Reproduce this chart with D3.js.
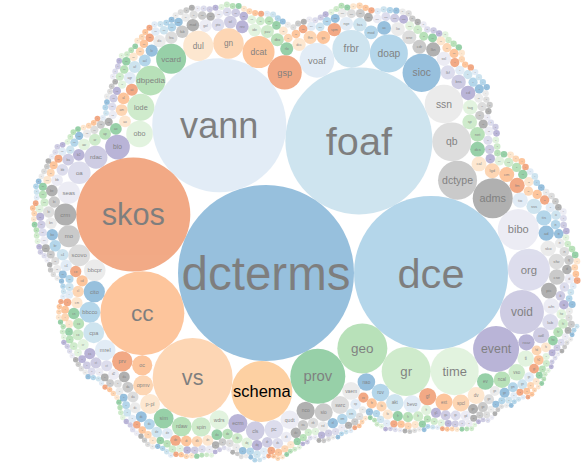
<!DOCTYPE html>
<html>
<head>
<meta charset="utf-8">
<script src="https://cdn.jsdelivr.net/npm/d3@7"></script>
<style>
body { margin: 0; background: #fff; overflow: hidden; }
text { font-family: "Liberation Sans", Arial, sans-serif; pointer-events: none; }
</style>
</head>
<body>
<div id="chart-area"></div>
<script>

// vocabulary prefixes, already sorted by usage (largest first)
var names = ("dcterms dce foaf vann skos cc vs schema prov geo gr time event void org bibo adms dctype qb ssn sioc doap frbr voaf gsp dcat gn dul vcard dbpedia lode obo bio " +
  "rdac oa seas crm mo scovo bbcprov cito bbccore cpa mrel prv oc opmv p-plan sim rdaw spin wdrs ecrm cls pc qudt nco sio swrc vaem nao rov akt bevon gf ext spcl dv ev ncal vso ti roar adl lab afn pico cse sfw skosxl ad tisc ssso tio fm cm lgd cal dcs net sp tag cd bnsl lkfr ssl lkn cdr oner lio ac mod hcs ngeo spm gs fhn dcc rlo dbo pav ide rev wl pto gold mads fabio fea dic lv " +
  "acl af agrelon aiiso algo am ao aos api arch awol b2bo basic bbc bbccms being biol biotop bne bot bref c4n c4o ceo cdm cl cmo cnt cog coo cro csvw ctag ctorg d2rq dady daia dannet dcam dcite " +
  "dcndl decision demlab deo disco dk dn doc docso dpn dq dqm dr dso dtype dvia earl ebucore edm elec emp emtr ep ex fel food fowl frad frapo frbrer fresnel g50k gazetteer gc gd gen geod geof geop ges " +
  "gml gndo gso gts h2o hdo hifm holding hr http hw iao ibis ic idemo identity igeo incident infor inno interval iol irw is isbd iso639 isocat isothes itsrdf kdo keys label lawd lcy ldp ldr lemon lexinfo lgdo li " +
  "lib limoo lingvo llont lmf loc locn log lsc lvont ma-ont marl maso mdi media meta mil moac moat msm mtl muto mvco ndl nfo nie nif nrl nsl ntag oad obsm ocd odapp odpart odrl odv olca olo om " +
  "onc ont ontopic ontosec op opmo opmw opo opus orca ore osadm osgeom osp osr osspr ostop ov owl owlse pattern pay pbo pdo person place pmlp pna pnt postcode pproc pro prvr ptop pubsub puc quty radion rdafrbr rdag1 " +
  "rdarel rdfs rec rec54 rel rr rsctx ru s4ac saws scip scoro scot scsv sd sdo search sem seq sf shoah sirext sit sdmx smg snarm sor spcm spfood sport spt sto stac step swc swpm swpo taxon tao teach " +
  "test theatre tis tm tmo topo tp traffic trao tsioc tsn tso turismo tvc tzont uco ui uneskos uri4uri uta vdpp vgo vin vivo vmm voag vra vsearch wai wf-invoc wfdesc wfprov wgs84 wi wlo wo xapi xhv xkos zbwext " +
  "acco adr aeo agls alg ann aprov asgv atd bag bibtex biopax blt bn cart cbo cerif cgov cidoc ckan cmns co comm coun cpov ct ctxdesc cv cwork dav dcap dcx dgtwc dio dm2e dogont dpv drm dsn dsw " +
  "ecpo eli elod emotion env esadm evset exif fire geom gci gdprov gov gtfs gvp hasco hto hydra ical iot-lite isa itm kees lheo lime limo lmm1 lmm2 loted lrmi m3lite mex-algo mex-core mex-perf minim mls md mtlo muo oboe " +
  "ocds odo ogc olac omdoc ontolex oo oslc pep pext phdd pic prissma qu raul rdag2 rdag3 rdai rdam rdae rdaa rdfa rlog ro rut san-lod sosa tempo uby vartrans vrank whois xlime sdmx-d sdmx-m sdmx-c gnd tei wot sh " +
  "ssno sao seo sbeo semio sesame sil sis skb sml so spar sql stats stx sw swp tac tblcd tdo thors tix tl tmpl trait trans tree ttl tui ucum ug unit uom va vidont vir vocals voidext vvo wdrl " +
  "agent aml apf arco arp asn aws bdo bf bs cdao cex cff chear clinic cmp cogs conts cpack cpi crmdig crmsci cso cvdo dbont dcatap dcpd dctap dicera dqv dsv duv eac-cpf ecfo ecc edam eem efrbroo ekaw emmo " +
  "ems envo eppl eproc ero esco estrn eu fair faldo fcpv fdof fibo fog frbroo fuzzy gbol geofab geor gleif goaf gufo hmo holo hosp hp htir iana iati ido ifc imf ioto irc jerm juso lcsh lido lmu lobid " +
  "lsq ltk maeco mdm meat mesh metalex mf micro mmf mpo mrt mus nidm nlp nobel npg nsg oae obx ocsv odf oed ofn ogdl ohsm okn oliv omo ontop opl oplprof orgeo oro osm ostp ottr owlgred pcdm pdl " +
  "pf pht pkmn pmn pobo poste pplan pr pre prof provone pso pwo qbe rdaio rdau rdm reve rim rkd rofc rsa rsr sage sbo scho seasd sgx skosthes smxm spatial srv ssd stix sup sx " +
  "ldqm opla ocmv wlp xbrli spl rdasco lmm ttp hmp").split(" ");

// number of uses of each vocabulary
var values = [
  7744, 5929, 5402, 4489, 3249, 1764, 1600, 930, 756, 625, 600, 576, 529, 484, 441, 420, 400,
  380, 376, 370, 364, 361, 357, 300, 292, 256, 232, 228, 225, 222, 182, 176, 152,
  132, 128, 125, 121, 120, 117, 116, 112, 110, 108, 106, 104, 102, 100, 99, 98, 96, 94, 92, 90,
  88, 86, 85, 83, 81, 80, 79, 78, 77, 76, 75, 74, 73, 72, 71, 70, 69, 68, 67, 66,
  65, 64, 63, 62, 61, 60, 60, 59, 58, 58, 57, 57, 56, 56, 55, 55, 54, 54, 53, 53,
  52, 51, 50, 50, 49, 49, 48, 48, 47, 46, 45, 45, 44, 44, 43, 43, 42, 42, 41, 41, 40, 40, 40, 39, 39, 38, 38, 37,
  36, 36, 36, 36, 35, 35, 35, 35, 35, 35, 34, 34, 34, 34, 34, 34, 33, 33, 33, 33, 33, 33,
  32, 32, 32, 32, 32, 32, 31, 31, 31, 31, 31, 31, 30, 30, 30, 30, 30, 30, 30,
  29, 29, 29, 29, 29, 29, 29, 28, 28, 28, 28, 28, 28, 28, 27, 27, 27, 27, 27, 27, 27, 27,
  26, 26, 26, 26, 26, 26, 26, 26, 25, 25, 25, 25, 25, 25, 25, 25, 25, 25,
  24, 24, 24, 24, 24, 24, 24, 24, 24, 24, 23, 23, 23, 23, 23, 23, 23, 23, 23, 23, 23,
  22, 22, 22, 22, 22, 22, 22, 22, 22, 22, 22, 21, 21, 21, 21, 21, 21, 21, 21, 21, 21, 21, 21, 21,
  20, 20, 20, 20, 20, 20, 20, 20, 20, 20, 20, 20, 20, 20, 19, 19, 19, 19, 19, 19, 19, 19, 19, 19, 19, 19, 19, 19,
  18, 18, 18, 18, 18, 18, 18, 18, 18, 18, 18, 18, 18, 18, 18, 17, 17, 17, 17, 17, 17, 17, 17, 17, 17, 17, 17, 17, 17,
  16, 16, 16, 16, 16, 16, 16, 16, 16, 16, 16, 16, 16, 16, 16, 16, 16, 16, 16,
  15, 15, 15, 15, 15, 15, 15, 15, 15, 15, 15, 15, 15, 15, 15, 15, 15, 15, 15, 15, 15,
  14, 14, 14, 14, 14, 14, 14, 14, 14, 14, 14, 14, 14, 14, 14, 14, 14, 14, 14, 14, 14, 14,
  13, 13, 13, 13, 13, 13, 13, 13, 13, 13, 13, 13, 13, 13, 13, 13, 13, 13, 13, 13, 13, 13, 13, 13, 13, 13,
  12, 12, 12, 12, 12, 12, 12, 12, 12, 12, 12, 12, 12, 12, 12, 12, 12, 12, 12, 12, 12, 12, 12, 12, 12, 12, 12, 12, 12,
  11, 11, 11, 11, 11, 11, 11, 11, 11, 11, 11, 11, 11, 11, 11, 11, 11, 11, 11, 11, 11, 11, 11, 11, 11, 11, 11, 11, 11, 11, 11, 11,
  10, 10, 10, 10, 10, 10, 10, 10, 10, 10, 10, 10, 10, 10, 10, 10, 10, 10, 10, 10, 10, 10, 10, 10, 10, 10, 10, 10, 10, 10, 10, 10, 10, 10, 10,
  9, 9, 9, 9, 9, 9, 9, 9, 9, 9, 9, 9, 9, 9, 9, 9, 9, 9, 9, 9, 9, 9, 9, 9, 9, 9, 9, 9, 9, 9, 9, 9, 9, 9, 9, 9, 9, 9, 9, 9,
  8, 8, 8, 8, 8, 8, 8, 8, 8, 8, 8, 8, 8, 8, 8, 8, 8, 8, 8, 8, 8, 8, 8, 8, 8, 8, 8, 8, 8, 8, 8, 8, 8, 8, 8, 8, 8, 8, 8, 8, 8, 8, 8, 8, 8,
  7, 7, 7, 7, 7, 7, 7, 7, 7, 7, 7, 7, 7, 7, 7, 7, 7, 7, 7, 7, 7, 7, 7, 7, 7, 7, 7, 7, 7, 7, 7, 7, 7, 7, 7, 7, 7, 7, 7, 7,
  7, 7, 7, 7, 7, 7, 7, 7, 7, 7, 7, 7, 7, 7, 7, 7,
  6, 6, 6, 6, 6, 6, 6, 6, 6, 6, 6, 6, 6, 6, 6, 6, 6, 6, 6, 6, 6, 6, 6, 6, 6, 6, 6, 6, 6, 6, 6, 6,
  6, 6, 6, 6, 6, 6, 6, 6, 6, 6, 6, 6, 6, 6, 6, 6, 6, 6, 6, 6, 6, 6, 6, 6, 6, 6, 6, 6, 6, 6, 6, 6,
  6, 6, 6, 6, 6, 6, 6, 6, 6, 6, 6, 6, 6, 6, 6, 6, 6, 6, 6, 6, 6, 6, 6, 6, 6, 6, 6, 6, 6, 6
];

// the bubble under the mouse pointer
var highlighted = "schema";

// category20c
var palette = ["#3182bd", "#6baed6", "#9ecae1", "#c6dbef", "#e6550d", "#fd8d3c", "#fdae6b", "#fdd0a2",
  "#31a354", "#74c476", "#a1d99b", "#c7e9c0", "#756bb1", "#9e9ac8", "#bcbddc", "#dadaeb",
  "#636363", "#969696", "#bdbdbd", "#d9d9d9"];

var width = 581, height = 473;
var origin = [266, 273];   // centre of the biggest bubble

var n = Math.min(names.length, values.length);

var rScale = d3.scaleSqrt().domain([0, d3.max(values)]).range([0, 88]);
var fontScale = d3.scaleLinear().domain([0, 88]).range([0, 47.5]);
var color = d3.scaleOrdinal().domain(d3.range(n)).range(palette);

var nodes = d3.range(n).map(function(i){
    return { name: names[i], value: values[i], r: rScale(values[i]), index: i };
});

// front-chain sibling packing (same walk as the old d3.layout.pack)
packSiblings(nodes);

var offX = origin[0] - nodes[0].x,
    offY = origin[1] - nodes[0].y;

var svg = d3.select("#chart-area")
    .append("svg")
    .attr("width", width)
    .attr("height", height);

var node = svg.selectAll(".node")
    .data(nodes)
    .enter().append("g")
    .attr("class", "node")
    .attr("transform", function(d){ return "translate(" + (d.x + offX) + "," + (d.y + offY) + ")"; })
    .style("opacity", function(d){ return d.name === highlighted ? 1 : 0.5; });

node.append("circle")
    .attr("r", function(d){ return d.r; })
    .style("fill", function(d){ return color(d.index); });

node.append("text")
    .attr("dy", ".35em")
    .style("text-anchor", "middle")
    .style("font-size", function(d){ return fontScale(d.r) + "px"; })
    .style("fill", "#000")
    .text(function(d){ return d.name.substring(0, d.r / 2); });


function packSiblings(nodes) {
    var a, b, c, i, j, k, len = nodes.length;
    nodes.forEach(function(d){ d._next = d._prev = d; });

    a = nodes[0]; a.x = -a.r; a.y = 0;
    if (len < 2) return;
    b = nodes[1]; b.x = b.r; b.y = 0;
    if (len < 3) return;

    c = nodes[2];
    place(a, b, c);
    insert(a, c);
    a._prev = c;
    insert(c, b);
    b = a._next;

    for (i = 3; i < len; i++) {
        place(a, b, c = nodes[i]);

        var isect = 0, s1 = 1, s2 = 1;
        for (j = b._next; j !== b; j = j._next, s1++) {
            if (intersects(j, c)) { isect = 1; break; }
        }
        if (isect == 1) {
            for (k = a._prev; k !== j._prev; k = k._prev, s2++) {
                if (intersects(k, c)) break;
            }
        }

        if (isect) {
            if (s1 < s2 || (s1 == s2 && b.r < a.r)) splice(a, b = j);
            else splice(a = k, b);
            i--;
        } else {
            insert(a, c);
            b = c;
        }
    }
    nodes.forEach(function(d){ delete d._next; delete d._prev; });

    function insert(a, b) {
        var c = a._next;
        a._next = b; b._prev = a;
        b._next = c; c._prev = b;
    }
    function splice(a, b) { a._next = b; b._prev = a; }
    function intersects(a, b) {
        var dx = b.x - a.x, dy = b.y - a.y, dr = a.r + b.r;
        return .999 * dr * dr > dx * dx + dy * dy;
    }
    function place(a, b, c) {
        var db = a.r + c.r, dx = b.x - a.x, dy = b.y - a.y;
        if (db && (dx || dy)) {
            var da = b.r + c.r, dc = dx * dx + dy * dy;
            da *= da;
            db *= db;
            var x = .5 + (db - da) / (2 * dc),
                y = Math.sqrt(Math.max(0, 2 * da * (db + dc) - (db -= dc) * db - da * da)) / (2 * dc);
            c.x = a.x + x * dx + y * dy;
            c.y = a.y + x * dy - y * dx;
        } else {
            c.x = a.x + db;
            c.y = a.y;
        }
    }
}
</script>
</body>
</html>
